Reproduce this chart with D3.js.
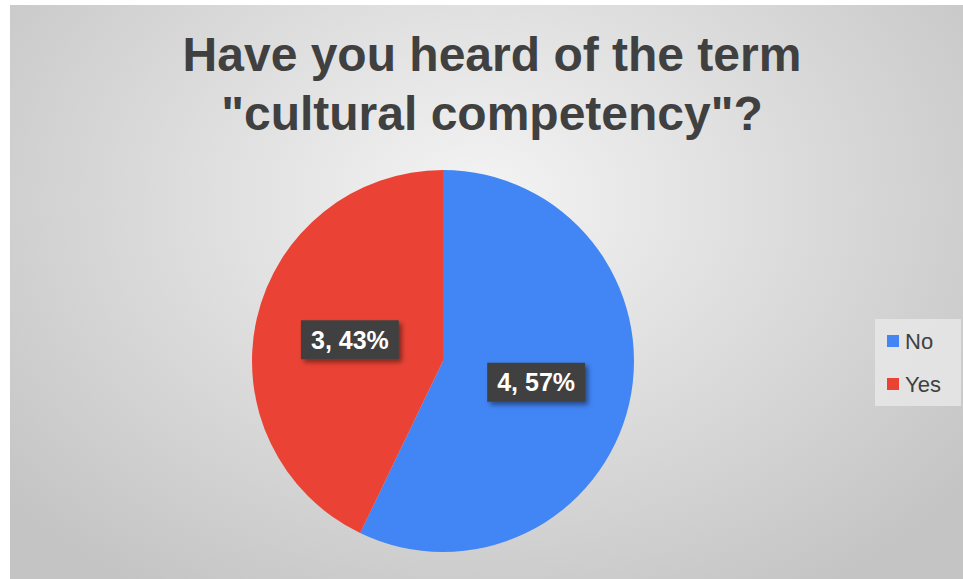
<!DOCTYPE html>
<html>
<head>
<meta charset="utf-8">
<script src="https://cdn.jsdelivr.net/npm/d3@7"></script>
<style>
  body { margin: 0; background: #fff; }
</style>
</head>
<body>
<div id="chart-container"></div>
<script>
const W = 963, H = 579;

// data
const categories = ["No", "Yes"];
const counts = [4, 3];
const colors = ["#4285f4", "#ea4335"];
const titleLines = ["Have you heard of the term", "\"cultural competency\"?"];

const total = d3.sum(counts);
const data = categories.map((c, i) => ({ name: c, value: counts[i], color: colors[i] }));

const svg = d3.select("#chart-container")
    .append("svg")
    .attr("width", W)
    .attr("height", H);

const defs = svg.append("defs");

// background gradient, lighter at centre top
const grad = defs.append("radialGradient")
    .attr("id", "bg")
    .attr("gradientUnits", "userSpaceOnUse")
    .attr("cx", 480).attr("cy", 200).attr("r", 620)
    .attr("gradientTransform", "translate(480,200) scale(1,0.75) translate(-480,-200)");
grad.append("stop").attr("offset", "0%").attr("stop-color", "#f4f4f4");
grad.append("stop").attr("offset", "100%").attr("stop-color", "#c4c4c4");

const shadow = defs.append("filter")
    .attr("id", "shadow")
    .attr("x", "-20%").attr("y", "-30%").attr("width", "150%").attr("height", "180%");
shadow.append("feDropShadow")
    .attr("dx", 3).attr("dy", 3).attr("stdDeviation", 2.5)
    .attr("flood-color", "#000").attr("flood-opacity", 0.45);

svg.append("rect")
    .attr("x", 10).attr("y", 5)
    .attr("width", W - 10).attr("height", H - 5)
    .attr("fill", "url(#bg)");

// title
svg.append("g")
    .selectAll("text")
    .data(titleLines)
    .join("text")
    .attr("x", 492)
    .attr("y", (d, i) => 71 + i * 59)
    .attr("text-anchor", "middle")
    .style("font-family", "'Liberation Sans', Arial, sans-serif")
    .style("font-weight", "bold")
    .style("font-size", "48px")
    .style("fill", "#404040")
    .text(d => d);

// pie
const cx = 443, cy = 361, radius = 191;

const pie = d3.pie()
    .value(d => d.value)
    .sort(null);

const arc = d3.arc()
    .innerRadius(0)
    .outerRadius(radius);

const labelArc = d3.arc()
    .innerRadius(radius * 0.5)
    .outerRadius(radius * 0.5);

const g = svg.append("g")
    .attr("transform", `translate(${cx},${cy})`);

const arcs = pie(data);

g.selectAll("path")
    .data(arcs)
    .join("path")
    .attr("d", arc)
    .attr("fill", d => d.data.color);

// data labels: dark box with shadow
const labels = g.selectAll(".lbl")
    .data(arcs)
    .join("g")
    .attr("class", "lbl")
    .attr("transform", d => `translate(${labelArc.centroid(d)})`);

labels.each(function (d) {
    const sel = d3.select(this);
    const txt = sel.append("text")
        .attr("text-anchor", "middle")
        .attr("dy", "0.36em")
        .style("font-family", "'Liberation Sans', Arial, sans-serif")
        .style("font-weight", "bold")
        .style("font-size", "25px")
        .style("fill", "#fff")
        .text(`${d.data.value}, ${Math.round(d.data.value / total * 100)}%`);
    const bb = txt.node().getBBox();
    sel.insert("rect", "text")
        .attr("x", bb.x - 10)
        .attr("y", -19.5)
        .attr("width", bb.width + 20)
        .attr("height", 39)
        .attr("fill", "#404040")
        .attr("filter", "url(#shadow)");
});

// legend
const legend = svg.append("g")
    .attr("transform", "translate(875,319)");

legend.append("rect")
    .attr("width", 86)
    .attr("height", 87)
    .attr("fill", "#e8e8e8")
    .attr("opacity", 0.8);

const items = legend.selectAll(".item")
    .data(data)
    .join("g")
    .attr("class", "item")
    .attr("transform", (d, i) => `translate(12,${22 + i * 43})`);

items.append("rect")
    .attr("x", 0).attr("y", -6)
    .attr("width", 12).attr("height", 12)
    .attr("fill", d => d.color);

items.append("text")
    .attr("x", 18)
    .attr("dy", "0.36em")
    .style("font-family", "'Liberation Sans', Arial, sans-serif")
    .style("font-size", "22px")
    .style("fill", "#404040")
    .text(d => d.name);
</script>
</body>
</html>
